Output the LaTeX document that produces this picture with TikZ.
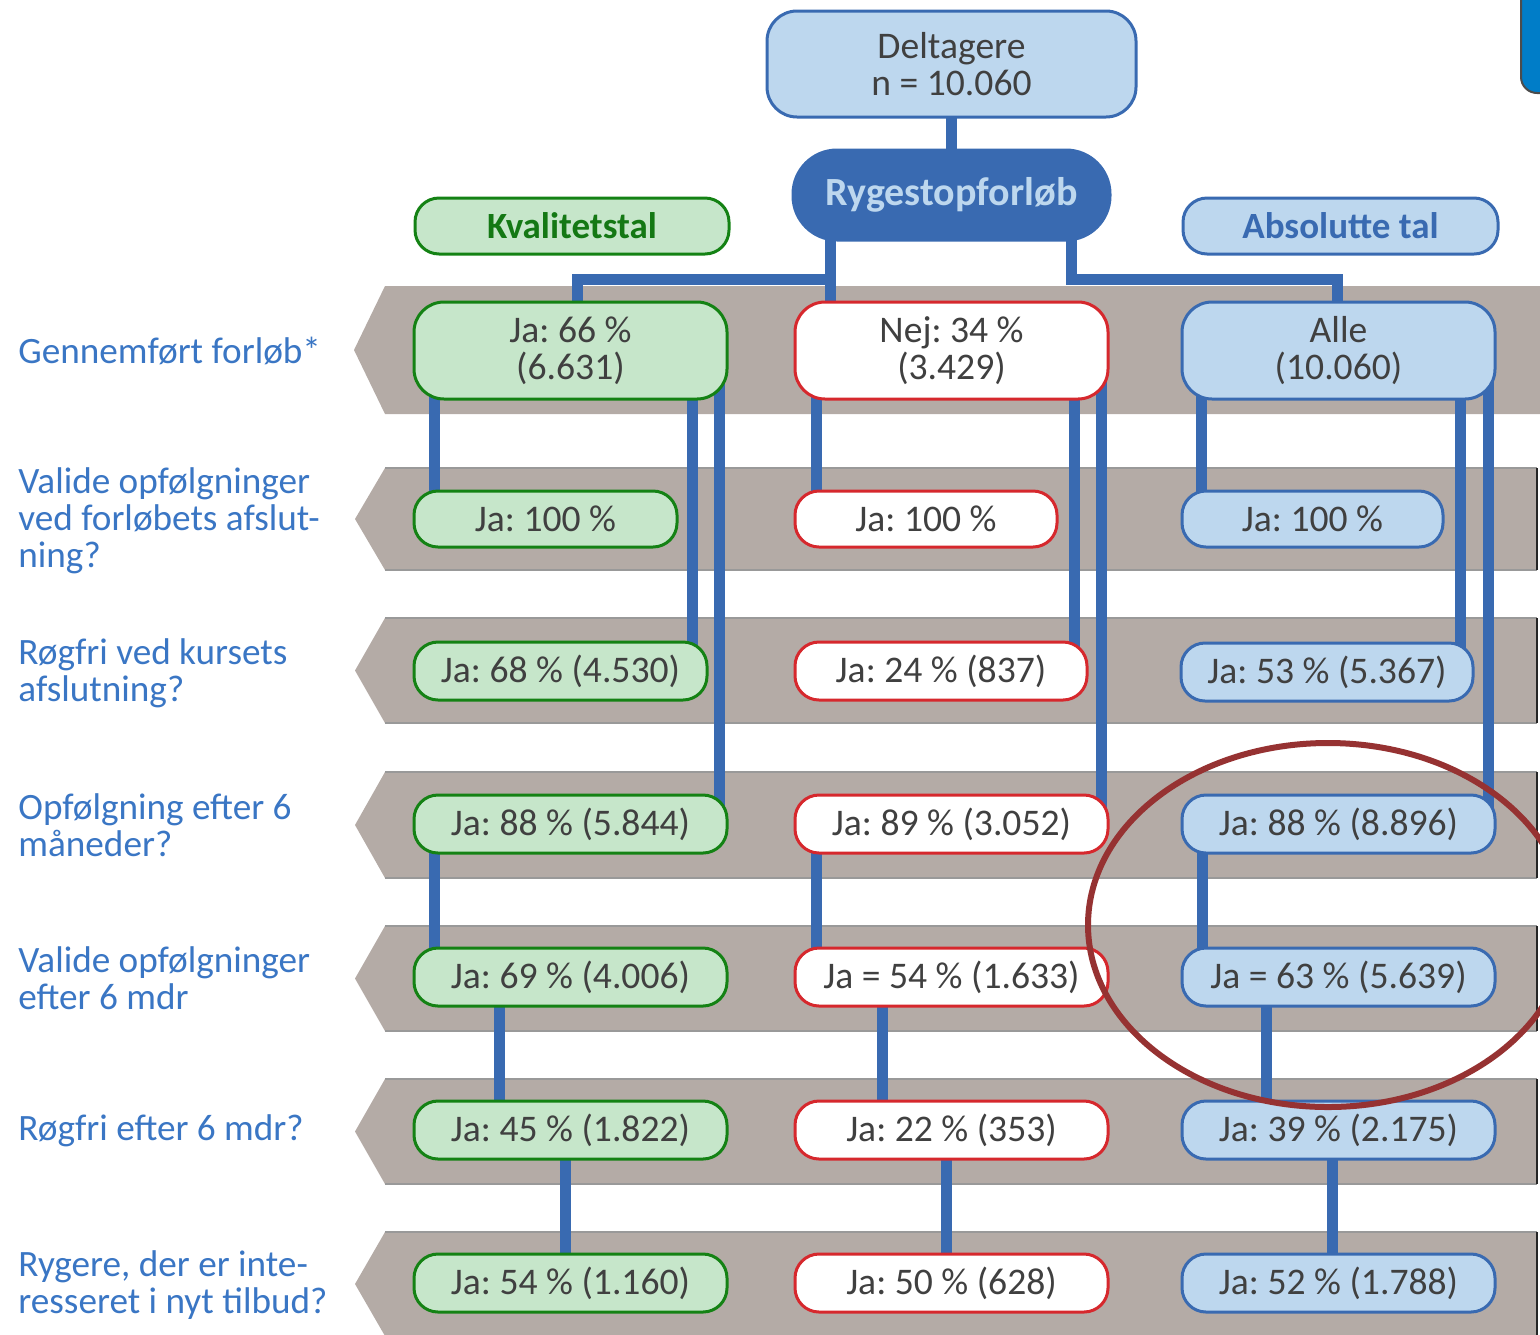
\documentclass[tikz,border=0pt]{standalone}
\usepackage{fontspec}
\setmainfont{Carlito}
\frenchspacing
\definecolor{connblue}{RGB}{57,106,177}
\definecolor{lightblue}{RGB}{189,215,238}
\definecolor{gfill}{RGB}{198,230,202}
\definecolor{gborder}{RGB}{20,130,20}
\definecolor{rborder}{RGB}{214,40,45}
\definecolor{bandgray}{RGB}{180,171,166}
\definecolor{txt}{RGB}{64,64,64}
\definecolor{lbl}{RGB}{58,118,196}
\definecolor{ellred}{RGB}{150,50,50}
\definecolor{kvaltxt}{RGB}{20,120,20}
\definecolor{logoblue}{RGB}{0,125,200}
\pgfdeclarelayer{bands}
\pgfdeclarelayer{conns}
\pgfsetlayers{bands,conns,main}
\begin{document}
\begin{tikzpicture}[x=0.5pt,y=-0.5pt,
  box/.style={rounded corners=12pt, line width=1.5pt, inner sep=0pt, align=center, text=txt, font=\fontsize{18.8}{18.5}\selectfont},
  gbox/.style={box, draw=gborder, fill=gfill},
  rbox/.style={box, draw=rborder, fill=white},
  bbox/.style={box, draw=connblue, fill=lightblue},
  wide/.style={minimum width=156.5pt, minimum height=29pt},
  conn/.style={draw=connblue, line width=5.5pt},
  lbltext/.style={anchor=west, align=left, text=lbl, inner sep=0pt, font=\fontsize{18.6}{18.5}\selectfont},
]
\useasboundingbox (0,0) rectangle (1540,1334);
\clip (0,0) rectangle (1540,1334);

% bands
\begin{pgfonlayer}{bands}
\fill[bandgray] (385,286) -- (1545,286) -- (1545,414) -- (385,414) -- (354,350) -- cycle;
\foreach \t/\b in {468/570, 618/723, 772/878, 926/1031, 1079/1184, 1232/1336}{
  \fill[bandgray] (385,\t) -- (1537,\t) -- (1537,\b) -- (385,\b) -- (355,{(\t+\b)/2}) -- cycle;
  \draw[black!40, line width=0.8pt] (385,\t) -- (1537,\t);
  \draw[black!40, line width=0.8pt] (385,\b) -- (1537,\b);
  \draw[black!85, line width=1.2pt] (1537,\t) -- (1537,\b);
}
\end{pgfonlayer}

% logo fragment
\draw[fill=logoblue, draw=black!70, line width=1pt, rounded corners=8pt] (1521,-20) rectangle (1600,93);

% header nodes
\node[bbox, rounded corners=15pt, minimum width=184.5pt, minimum height=53pt] (delt) at (951.5,64) {Deltagere\\n = 10.060};
\node[box, draw=connblue, fill=connblue, text=lightblue, rounded corners=22pt, minimum width=158.5pt, minimum height=45pt, font=\fontsize{20}{22}\selectfont\bfseries] (ryge) at (951.5,195) {Rygestopforløb};
\node[gbox, text=kvaltxt, minimum width=157pt, minimum height=28pt, font=\fontsize{18.5}{18}\selectfont\bfseries] (kval) at (572,226) {Kvalitetstal};
\node[bbox, text=connblue, minimum width=157.5pt, minimum height=28pt, font=\fontsize{18.5}{18}\selectfont\bfseries] (abs) at (1340.5,226) {Absolutte tal};

% left labels
\node[lbltext] (l1) at (18,351) {Gennemført forløb*};
\node[lbltext] (l2) at (18,521) {Valide opfølgninger\\ved forløbets afslut-\\ning?};
\node[lbltext] (l3) at (18,673) {Røgfri ved kursets\\afslutning?};
\node[lbltext] (l4) at (18,825) {Opfølgning efter 6\\måneder?};
\node[lbltext] (l5) at (18,978) {Valide opfølgninger\\efter 6 mdr};
\node[lbltext] (l6) at (18,1131) {Røgfri efter 6 mdr?};
\node[lbltext] (l7) at (18,1285) {Rygere, der er inte-\\resseret i nyt tilbud?};

% green column
\node[gbox, rounded corners=15pt, minimum width=156.5pt, minimum height=48.5pt] (g1) at (570.5,350.5) {Ja: 66 \%\\(6.631)};
\node[gbox, minimum width=131.5pt, minimum height=28pt] (g2) at (545.5,519) {Ja: 100 \%};
\node[gbox, minimum width=146.5pt, minimum height=29pt] (g3) at (560.5,671) {Ja: 68 \% (4.530)};
\node[gbox, wide] (g4) at (570.5,824) {Ja: 88 \% (5.844)};
\node[gbox, wide] (g5) at (570.5,977) {Ja: 69 \% (4.006)};
\node[gbox, wide] (g6) at (570.5,1130) {Ja: 45 \% (1.822)};
\node[gbox, wide] (g7) at (570.5,1283) {Ja: 54 \% (1.160)};

% red column
\node[rbox, rounded corners=15pt, minimum width=156.5pt, minimum height=48.5pt] (r1) at (951.5,350.5) {Nej: 34 \%\\(3.429)};
\node[rbox, minimum width=131pt, minimum height=28pt] (r2) at (926,519) {Ja: 100 \%};
\node[rbox, minimum width=146pt, minimum height=29pt] (r3) at (941,671) {Ja: 24 \% (837)};
\node[rbox, wide] (r4) at (951.5,824) {Ja: 89 \% (3.052)};
\node[rbox, wide] (r5) at (951.5,977) {Ja = 54 \% (1.633)};
\node[rbox, wide] (r6) at (951.5,1130) {Ja: 22 \% (353)};
\node[rbox, wide] (r7) at (951.5,1283) {Ja: 50 \% (628)};

% blue column
\node[bbox, rounded corners=15pt, minimum width=156.5pt, minimum height=48.5pt] (b1) at (1338.5,350.5) {Alle\\(10.060)};
\node[bbox, minimum width=130.5pt, minimum height=28pt] (b2) at (1312.5,519) {Ja: 100 \%};
\node[bbox, minimum width=146pt, minimum height=29pt] (b3) at (1327,672) {Ja: 53 \% (5.367)};
\node[bbox, wide] (b4) at (1338.5,824) {Ja: 88 \% (8.896)};
\node[bbox, wide] (b5) at (1338.5,977) {Ja = 63 \% (5.639)};
\node[bbox, wide] (b6) at (1338.5,1130) {Ja: 39 \% (2.175)};
\node[bbox, wide] (b7) at (1338.5,1283) {Ja: 52 \% (1.788)};

% connectors
\coordinate (jl) at (830,279);
\coordinate (jr) at (1071,279);
\begin{pgfonlayer}{conns}
\draw[conn] (delt.center -| 951,0) -- (ryge.center -| 951,0);
\draw[conn] (ryge.center -| 830,0) -- (r1.center -| 830,0);
\draw[conn] (g1.center -| 577,0) |- (jl);
\draw[conn] (b1.center -| 1337,0) |- (jr) -- (ryge.center -| 1071,0);
\foreach \a/\b/\x in {g1/g2/434, g1/g3/692, g1/g4/719, g4/g5/434, g5/g6/499, g6/g7/565,
                      r1/r2/816, r1/r3/1074, r1/r4/1101, r4/r5/816, r5/r6/882, r6/r7/946,
                      b1/b2/1201, b1/b3/1460, b1/b4/1488, b4/b5/1202, b5/b6/1266, b6/b7/1332}{
  \draw[conn] (\a.center -| \x,0) -- (\b.center -| \x,0);
}
\end{pgfonlayer}

% highlight ellipse
\draw[ellred, line width=3pt] (1328,925) ellipse [x radius=240, y radius=182];
\end{tikzpicture}
\end{document}
